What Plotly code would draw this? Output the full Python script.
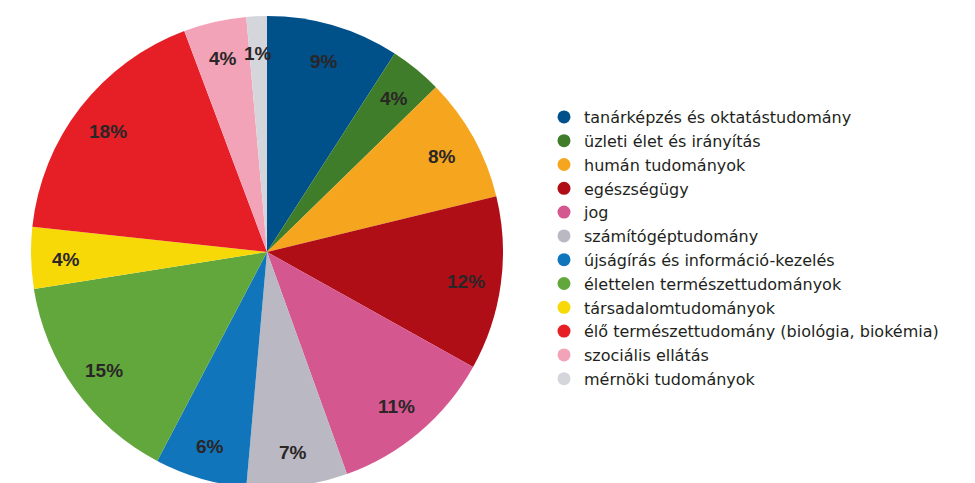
import math
import plotly.graph_objects as go

# szakterületek (óramutató járásával egyezően, 12 órától)
fields = [
    "tanárképzés és oktatástudomány",
    "üzleti élet és irányítás",
    "humán tudományok",
    "egészségügy",
    "jog",
    "számítógéptudomány",
    "újságírás és információ-kezelés",
    "élettelen természettudományok",
    "társadalomtudományok",
    "élő természettudomány (biológia, biokémia)",
    "szociális ellátás",
    "mérnöki tudományok",
]
shares = [9.1, 3.6, 8.5, 11.9, 11.4, 6.9, 6.3, 14.8, 4.2, 17.6, 4.3, 1.4]
labels_txt = ["9%", "4%", "8%", "12%", "11%", "7%", "6%", "15%", "4%", "18%", "4%", "1%"]
colors = [
    "#00508a", "#3f7d2a", "#f6a61e", "#b00e17", "#d4588f", "#b9b8c3",
    "#1175bb", "#62a73c", "#f7d908", "#e61e25", "#f3a3b8", "#d5d6dc",
]

W, H = 975, 483
t, b = 8, 3          # az oldal 8 px-es margója miatt a kör alja kilóg
ph = H - t - b
r = ph / 2
cx = 259
cy = t + r

fig = go.Figure()

fig.add_trace(go.Pie(
    labels=fields,
    values=shares,
    textinfo="none",
    marker=dict(colors=colors, line=dict(width=0)),
    sort=False,
    direction="clockwise",
    rotation=0,
    showlegend=False,
    hoverinfo="label+percent",
    domain=dict(x=[(cx - r) / W, (cx + r) / W], y=[0, 1]),
))

# százalék feliratok a szeletek közepén, a sugár ~85%-ánál
total = sum(shares)
cum = 0
for val, txt in zip(shares, labels_txt):
    ang = 2 * math.pi * (cum + val / 2) / total
    cum += val
    px = cx + 0.85 * r * math.sin(ang)
    py = cy - 0.85 * r * math.cos(ang)
    fig.add_annotation(
        x=px / W, y=1 - (py - t) / ph, xref="paper", yref="paper",
        xanchor="center", yanchor="middle", yshift=-2,
        text=txt, showarrow=False,
        font=dict(family="Liberation Sans", size=19, color="#2a2627", weight="bold"),
    )

# jelmagyarázat kör alakú jelekkel
for name, col in zip(fields, colors):
    fig.add_trace(go.Scatter(
        x=[None], y=[None], mode="markers", name=name,
        marker=dict(color=col, size=13, symbol="circle"),
    ))

fig.update_layout(
    width=W, height=H,
    margin=dict(l=0, r=0, t=t, b=b),
    paper_bgcolor="white",
    plot_bgcolor="white",
    xaxis=dict(visible=False, domain=[0.99, 1]),
    yaxis=dict(visible=False),
    legend=dict(
        x=536 / W, xanchor="left",
        y=1 - (92 - t) / ph, yanchor="top",
        font=dict(family="DejaVu Sans", size=16, color="#231f20"),
        itemsizing="trace",
        bgcolor="rgba(0,0,0,0)",
    ),
)

fig.write_html("out.html")
